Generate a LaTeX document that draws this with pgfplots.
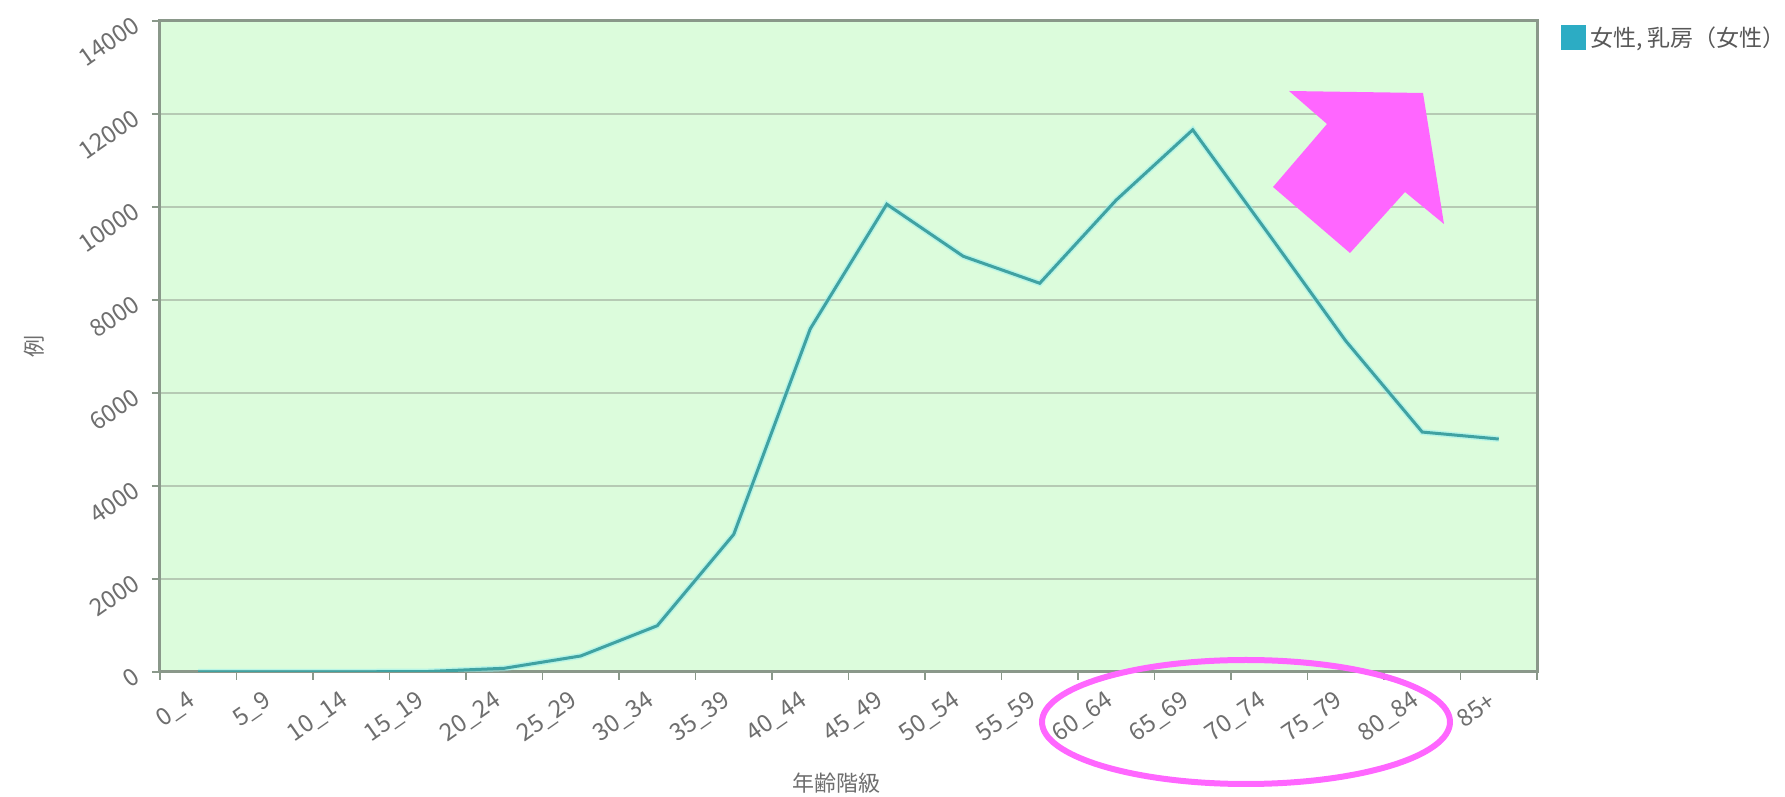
\documentclass[border=0pt]{standalone}
\usepackage{pgfplots}
\pgfplotsset{compat=1.18}
\usepackage{pgfplotstable}
\usepackage{fontspec}
\setmainfont{Noto Sans CJK JP}

\definecolor{plotbg}{RGB}{220,252,220}
\definecolor{framec}{RGB}{138,152,138}
\definecolor{gridc}{RGB}{182,202,180}
\definecolor{linec}{RGB}{64,162,162}
\definecolor{glowc}{RGB}{150,240,240}
\definecolor{legsq}{RGB}{44,172,196}
\definecolor{tickc}{RGB}{110,110,110}
\definecolor{markc}{RGB}{255,102,255}

% age class vs. cases
\pgfplotstableread{
x y
0 0
1 0
2 3
3 10
4 80
5 345
6 995
7 2960
8 7380
9 10060
10 8940
11 8360
12 10150
13 11660
14 9400
15 7120
16 5160
17 5010
}\cases

\begin{document}
\begin{tikzpicture}
\useasboundingbox (-80pt,-62.5pt) rectangle (812.5pt,336pt);
\begin{axis}[
    scale only axis,
    width=688.5pt, height=325.5pt,
    xmin=-0.5, xmax=17.5,
    ymin=0, ymax=14000,
    xtick={0,...,17},
    xticklabels={0\_4,5\_9,10\_14,15\_19,20\_24,25\_29,30\_34,35\_39,40\_44,
                 45\_49,50\_54,55\_59,60\_64,65\_69,70\_74,75\_79,80\_84,85+},
    minor xtick={-0.5,0.5,...,17.5},
    major x tick style={draw=none},
    ytick={0,2000,...,14000},
    xtick pos=bottom, ytick pos=left,
    tick align=outside,
    major tick length=4pt, minor tick length=4pt,
    tick style={framec, line width=0.6pt},
    scaled ticks=false,
    /pgf/number format/.cd, 1000 sep={}, assume math mode=true, /pgfplots/.cd,
    ymajorgrids,
    grid style={gridc, line width=0.7pt},
    axis background/.style={fill=plotbg},
    axis line style={framec, line width=1.5pt},
    ticklabel style={font=\fontsize{12}{14}\selectfont, text=tickc},
    xticklabel style={anchor=east, inner sep=1pt, yshift=-8.5pt, xshift=-2pt, rotate=35},
    yticklabel style={anchor=east, inner sep=1pt, xshift=-7pt, rotate=35},
    xlabel={年齢階級},
    ylabel={例},
    label style={font=\fontsize{11}{13}\selectfont, text=tickc},
    xlabel style={at={(axis description cs:0.491,0)}, anchor=center, yshift=-55.5pt},
    ylabel style={at={(axis description cs:-0.0915,0.5)}, anchor=center},
    legend style={at={(axis description cs:1,1)}, anchor=north west,
                  xshift=9pt, yshift=1.5pt, draw=none, fill=none,
                  font=\fontsize{11.5}{13}\selectfont, text=tickc!80!black},
    legend cell align=left,
]
\addplot[glowc, line width=3pt, opacity=0.5, forget plot] table[x=x, y=y] {\cases};
\addplot[linec, line width=1.5pt,
    legend image code/.code={\fill[legsq] (0pt,-5.5pt) rectangle (11pt,5.5pt);}]
    table[x=x, y=y] {\cases};
\addlegendentry{女性, 乳房（女性）}
\end{axis}
% highlight marks drawn over the chart (pixel units of the reference)
\begin{scope}[x=0.5pt, y=-0.5pt, shift={(-80pt,336pt)}]
\fill[markc] (1289,91) -- (1423,93) -- (1444,224) -- (1405,192) -- (1350,253)
    -- (1273,187) -- (1327,124) -- cycle;
\draw[markc, line width=3pt] (1246,722) ellipse [x radius=204, y radius=62];
\end{scope}
\end{tikzpicture}
\end{document}
